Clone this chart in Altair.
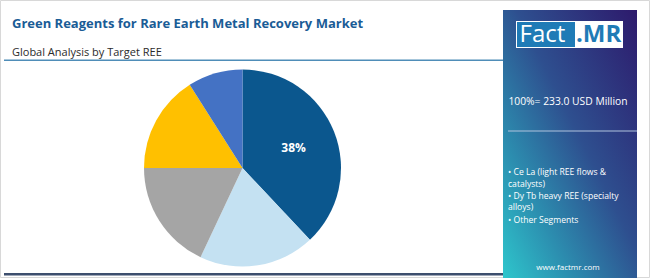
import altair as alt
import pandas as pd

title_text = "Green Reagents for Rare Earth Metal Recovery Market"
subtitle_text = "Global Analysis by Target REE"
total_text = "100%= 233.0 USD Million"
segments = ["Ce La", "Light", "Gray", "Yellow", "Blue"]
shares = [38, 19, 18, 16, 9]
slice_colors = ["#0B578E", "#C4E1F2", "#A5A5A5", "#FFC000", "#4472C4"]
shown_labels = ["38%", "", "", "", ""]
legend_lines = ["• Ce La (light REE flows &", "catalysts)", "• Dy Tb  heavy REE (specialty", "alloys)", "• Other Segments"]
site = "www.factmr.com"

df = pd.DataFrame({"segment": segments, "share": shares, "order": list(range(len(segments))), "label": shown_labels})
one = pd.DataFrame({"a": [0]})
FONT = "Open Sans"

cx, cy, R = 242.5, 168, 98.5

pie = alt.Chart(df).mark_arc(radius=R, stroke=None).encode(
    theta=alt.Theta("share:Q", stack=True),
    order=alt.Order("order:Q"),
    color=alt.Color("segment:N", scale=alt.Scale(domain=segments, range=slice_colors), legend=None),
    x=alt.value(cx), y=alt.value(cy),
)
pie_labels = alt.Chart(df).mark_text(radius=55, font=FONT, fontSize=12, fontWeight="bold", color="white").encode(
    theta=alt.Theta("share:Q", stack=True),
    order=alt.Order("order:Q"),
    text="label:N",
    x=alt.value(cx), y=alt.value(cy),
)

def txt(text, x, y, size, color, weight="normal", align="left", font=FONT):
    return alt.Chart(one).mark_text(text=text, font=font, fontSize=size, color=color, fontWeight=weight,
                                    align=align, baseline="middle").encode(x=alt.value(x), y=alt.value(y))

def rect(x, x2, y, y2, **kw):
    return alt.Chart(one).mark_rect(**kw).encode(x=alt.value(x), x2=alt.value(x2), y=alt.value(y), y2=alt.value(y2))

border = rect(0.5, 649.5, 0.5, 277.5, fill="white", stroke="#D8D8D8", strokeWidth=1)
underline = rect(4, 503, 59.5, 61, fill="#4F8DB8")
bottom_line = rect(4, 505, 273, 275.5, fill="#3D4F6E")

grad = alt.Gradient(
    gradient="linear", x1=1, y1=0, x2=0, y2=1,
    stops=[alt.GradientStop(color="#2D1A6C", offset=0),
           alt.GradientStop(color="#2E4F8F", offset=0.45),
           alt.GradientStop(color="#2C8FB0", offset=0.75),
           alt.GradientStop(color="#2EC6CC", offset=1)],
)
panel = rect(503, 637, 10, 278, fill=grad)
logo_bg = rect(516, 623, 21, 48, fill="white")
logo_blue = rect(517, 575, 22, 47, fill="#1F7BB6")
logo_fact = txt("Fact", 519.5, 35, 24, "white")
logo_mr = txt(".MR", 576, 35, 24, "#1F7BB6", weight="bold")
sep = rect(508, 637, 130.5, 131.5, fill="#AFC3DD")

layers = [border, underline, bottom_line, pie, pie_labels,
          txt(title_text, 12, 24, 13, "#1A5C96", weight="bold"),
          txt(subtitle_text, 12, 53, 11, "#2B2B2B"),
          panel, logo_bg, logo_blue, logo_fact, logo_mr,
          txt(total_text, 568, 102, 10.3, "white", align="center"), sep]
ys = [172, 183.5, 195.5, 207, 219.5]
for line, y in zip(legend_lines, ys):
    layers.append(txt(line, 508, y, 8.6, "white"))
layers.append(txt(site, 568, 267.5, 8, "white", align="center"))

chart = alt.layer(*layers).properties(
    width=650, height=278, padding=0, autosize=alt.AutoSizeParams(type="none"), background="white"
).configure_view(stroke=None)

chart.save("out.html", embed_options={"renderer": "svg", "actions": False})
